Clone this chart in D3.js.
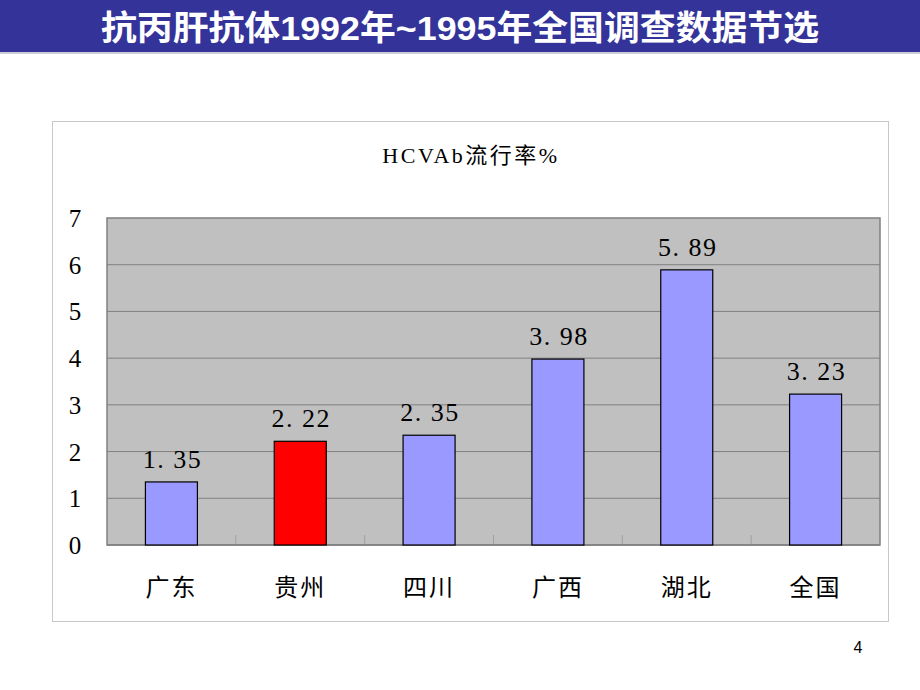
<!DOCTYPE html>
<html><head><meta charset="utf-8">
<script src="https://cdn.jsdelivr.net/npm/d3@7"></script>
<style>body{margin:0;background:#fff;}svg{display:block;}</style>
</head><body>
<script>
const categories = ["广东","贵州","四川","广西","湖北","全国"];
const values = [1.35, 2.22, 2.35, 3.98, 5.89, 3.23];
const labels = ["1.35","2.22","2.35","3.98","5.89","3.23"];
const yTicks = [0,1,2,3,4,5,6,7];
const barColors = ["#9999ff","#ff0000","#9999ff","#9999ff","#9999ff","#9999ff"];
const pageTitle = "抗丙肝抗体1992年~1995年全国调查数据节选";
const chartTitle = "HCVAb流行率%";

const W=920,H=690;
const svg=d3.select("body").append("svg").attr("width",W).attr("height",H);

// header band
svg.append("rect").attr("x",0).attr("y",0).attr("width",W).attr("height",52).attr("fill","#333399");
svg.append("rect").attr("x",0).attr("y",52).attr("width",W).attr("height",2).attr("fill","#ccccdd");
svg.append("text").attr("x",460).attr("y",40).attr("text-anchor","middle")
  .attr("font-family","'Liberation Sans','Noto Sans CJK SC',sans-serif").attr("font-weight","bold")
  .attr("font-size",34).attr("fill","#fff")
  .attr("textLength",718).attr("lengthAdjust","spacingAndGlyphs").text(pageTitle);

// chart outer box
svg.append("rect").attr("x",52.5).attr("y",121.5).attr("width",836).attr("height",500)
  .attr("fill","#fff").attr("stroke","#c8c8c8");

const plot={x0:107,x1:880,y0:218,y1:545};
const xb=d3.scaleBand().domain(categories).range([plot.x0,plot.x1]);
const y=d3.scaleLinear().domain([0,7]).range([plot.y1,plot.y0]);

svg.append("rect").attr("x",plot.x0).attr("y",plot.y0).attr("width",plot.x1-plot.x0).attr("height",plot.y1-plot.y0)
  .attr("fill","#c0c0c0").attr("stroke","#808080").attr("stroke-width",1.5);

// gridlines
svg.append("g").selectAll("line").data(yTicks.filter(t=>t>0&&t<7)).join("line")
  .attr("x1",plot.x0).attr("x2",plot.x1).attr("y1",d=>y(d)).attr("y2",d=>y(d))
  .attr("stroke","#808080").attr("stroke-width",1);

// category boundary ticks
svg.append("g").selectAll("line").data(categories.slice(1)).join("line")
  .attr("x1",d=>xb(d)).attr("x2",d=>xb(d)).attr("y1",plot.y1).attr("y2",plot.y1-10)
  .attr("stroke","#a0a0a0").attr("stroke-width",1);

// x axis line
svg.append("line").attr("x1",plot.x0).attr("x2",plot.x1).attr("y1",plot.y1).attr("y2",plot.y1)
  .attr("stroke","#808080").attr("stroke-width",1.5);

// bars
svg.append("g").selectAll("rect").data(values).join("rect")
  .attr("x",(d,i)=>xb(categories[i])+xb.bandwidth()/2-26)
  .attr("width",52)
  .attr("y",d=>y(d)).attr("height",d=>y(0)-y(d))
  .attr("fill",(d,i)=>barColors[i]).attr("stroke","#000").attr("stroke-width",1.2);

const serif="'Liberation Serif','DejaVu Serif','Noto Sans CJK SC',serif";
// value labels
svg.append("g").selectAll("text").data(values).join("text")
  .attr("x",(d,i)=>xb(categories[i])+xb.bandwidth()/2+1)
  .attr("y",d=>y(d)-14)
  .attr("text-anchor","middle").attr("font-family",serif).attr("font-size",26)
  .attr("letter-spacing",1.5).attr("fill","#000")
  .text((d,i)=>labels[i].replace(".",". "));

// y tick labels
svg.append("g").selectAll("text").data(yTicks).join("text")
  .attr("x",75).attr("y",d=>y(d)+9).attr("text-anchor","middle")
  .attr("font-family",serif).attr("font-size",25).attr("fill","#000").text(d=>d);

// category labels
svg.append("g").selectAll("text").data(categories).join("text")
  .attr("x",d=>xb(d)+xb.bandwidth()/2).attr("y",596).attr("text-anchor","middle")
  .attr("font-family","'Noto Sans CJK SC',sans-serif").attr("font-size",24).attr("letter-spacing",2).attr("fill","#000").text(d=>d);

// chart title
svg.append("text").attr("x",471).attr("y",163).attr("text-anchor","middle")
  .attr("font-family","'Liberation Serif','Noto Sans CJK SC',serif").attr("font-size",22).attr("letter-spacing",2.5).attr("fill","#000").text(chartTitle);

// page number
svg.append("text").attr("x",858).attr("y",653).attr("text-anchor","middle")
  .attr("font-family","'Liberation Sans',sans-serif").attr("font-size",16).attr("fill","#000").text("4");
</script>
</body></html>
